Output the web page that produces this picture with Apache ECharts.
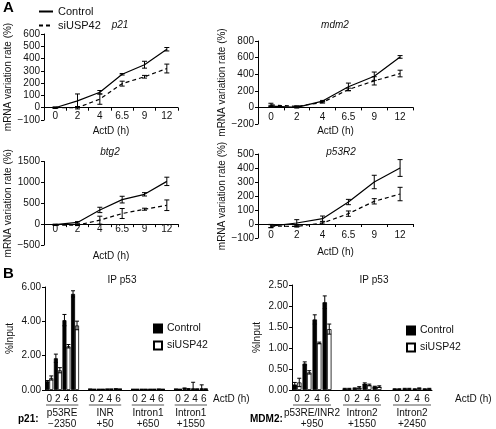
<!DOCTYPE html>
<html><head><meta charset="utf-8">
<script src="https://cdn.jsdelivr.net/npm/echarts@6/dist/echarts.min.js"></script>
<style>html,body{margin:0;padding:0;background:#fff}#c{width:496px;height:429px}</style>
</head><body><div id="c"></div>
<script>
// ---------- Panel A: mRNA variation rate (%) vs ActD (h) ----------
const times = ['0', '2', '4', '6.5', '9', '12'];

const p21Control = [0, 56, 126, 272, 350, 476];
const p21ControlErr = [5, 56, 14, 6, 28, 14];
const p21Si = [0, 0, 70, 196, 252, 319];
const p21SiErr = [5, 10, 42, 20, 11, 36];

const mdm2Control = [15, 0, 76, 248, 376, 608];
const mdm2ControlErr = [10, 8, 8, 45, 50, 16];
const mdm2Si = [30, 12, 60, 216, 320, 408];
const mdm2SiErr = [20, 8, 8, 16, 50, 40];

const btg2Control = [-10, 40, 340, 587, 714, 1024];
const btg2ControlErr = [10, 20, 64, 80, 40, 100];
const btg2Si = [-24, -24, 95, 254, 357, 452];
const btg2SiErr = [10, 10, 95, 120, 24, 127];

const p53r2Control = [-15, 7, 38, 157, 300, 400];
const p53r2ControlErr = [12, 24, 19, 19, 48, 60];
const p53r2Si = [-15, -17, 7, 74, 162, 214];
const p53r2SiErr = [10, 5, 8, 19, 19, 48];

// ---------- Panel B: ChIP IP p53, %Input ----------
const chipTimes = ['0', '2', '4', '6'];

const p21Regions = [['p53RE', '\u22122350'], ['INR', '+50'], ['Intron1', '+650'], ['Intron1', '+1550']];
const p21ChipControl = [0.50, 1.85, 4.07, 5.60, 0.05, 0.04, 0.05, 0.06, 0.04, 0.04, 0.04, 0.05, 0.05, 0.10, 0.10, 0.10];
const p21ChipControlErr = [0.05, 0.24, 0.33, 0.18, 0.01, 0.01, 0.01, 0.02, 0.01, 0.01, 0.01, 0.01, 0.01, 0.02, 0.35, 0.20];
const p21ChipSi = [0.70, 1.15, 2.55, 3.76, 0.04, 0.04, 0.05, 0.05, 0.04, 0.04, 0.04, 0.04, 0.04, 0.06, 0.05, 0.05];
const p21ChipSiErr = [0.12, 0.15, 0.10, 0.25, 0.01, 0.01, 0.01, 0.01, 0.01, 0.01, 0.01, 0.01, 0.01, 0.02, 0.02, 0.02];

const mdm2Regions = [['p53RE/INR2', '+950'], ['Intron2', '+1550'], ['Intron2', '+2450']];
const mdm2ChipControl = [0.13, 0.63, 1.68, 2.09, 0.03, 0.04, 0.15, 0.08, 0.02, 0.03, 0.02, 0.02];
const mdm2ChipControlErr = [0.05, 0.04, 0.11, 0.15, 0.01, 0.01, 0.02, 0.01, 0.01, 0.01, 0.01, 0.01];
const mdm2ChipSi = [0.18, 0.42, 1.12, 1.45, 0.03, 0.06, 0.12, 0.08, 0.02, 0.03, 0.04, 0.03];
const mdm2ChipSiErr = [0.10, 0.04, 0.02, 0.12, 0.01, 0.02, 0.02, 0.02, 0.01, 0.01, 0.01, 0.01];

// ---------- helpers ----------
const FONT = "'Liberation Sans', Arial, Helvetica, sans-serif";
const INK = '#111';
const txt = (size, extra) => Object.assign({ color: INK, fontFamily: FONT, fontSize: size }, extra || {});
const minus = v => String(v).replace('-', '\u2212');

function errData(vals, errs, idxFn, clampZero) {
  return vals.map((v, i) => {
    let lo = v - errs[i];
    if (clampZero) lo = Math.max(0, lo);
    return [idxFn ? idxFn(i) : i, lo, v + errs[i]];
  });
}
function errSeries(gridIdx, data, dx, capW) {
  return {
    type: 'custom', xAxisIndex: gridIdx, yAxisIndex: gridIdx, z: 5, silent: true,
    encode: { x: 0, y: [1, 2] },
    renderItem: (params, api) => {
      const lo = api.coord([api.value(0), api.value(1)]);
      const hi = api.coord([api.value(0), api.value(2)]);
      const cx = lo[0] + dx, w = capW / 2;
      const st = { stroke: '#000', lineWidth: 1 };
      return { type: 'group', children: [
        { type: 'line', shape: { x1: cx, y1: lo[1], x2: cx, y2: hi[1] }, style: st },
        { type: 'line', shape: { x1: cx - w, y1: lo[1], x2: cx + w, y2: lo[1] }, style: st },
        { type: 'line', shape: { x1: cx - w, y1: hi[1], x2: cx + w, y2: hi[1] }, style: st }
      ]};
    },
    data: data
  };
}

const grids = [
  { left: 44, top: 34, width: 134, height: 86 },    // p21
  { left: 258, top: 41, width: 155, height: 83 },   // mdm2
  { left: 44, top: 161.5, width: 134, height: 83.5 }, // btg2
  { left: 258, top: 154, width: 155, height: 84 },  // p53R2
  { left: 45, top: 287, width: 163, height: 103 },  // ChIP p21
  { left: 292, top: 285, width: 140, height: 105 }  // ChIP MDM2
];

const lineY = [
  { min: -100, max: 600, interval: 100 },
  { min: -200, max: 800, interval: 200 },
  { min: -500, max: 1500, interval: 500 },
  { min: -100, max: 500, interval: 100 }
];
// x labels sit just under the zero line
const labelMargin = [-9, -12, -21, -8];
const nameGaps = [6, 2, 6, 9];

const xAxes = [], yAxes = [], series = [];
const lineSets = [
  [p21Control, p21ControlErr, p21Si, p21SiErr],
  [mdm2Control, mdm2ControlErr, mdm2Si, mdm2SiErr],
  [btg2Control, btg2ControlErr, btg2Si, btg2SiErr],
  [p53r2Control, p53r2ControlErr, p53r2Si, p53r2SiErr]
];

lineSets.forEach((s, g) => {
  xAxes.push({
    type: 'category', gridIndex: g, data: times, boundaryGap: true,
    axisLine: { onZero: true, lineStyle: { color: '#000', width: 1 } },
    axisTick: { show: true, length: 3, lineStyle: { color: '#000' } },
    axisLabel: Object.assign(txt(10), { margin: labelMargin[g], interval: 0 }),
    name: 'ActD (h)', nameLocation: 'middle', nameGap: nameGaps[g], nameTextStyle: txt(10)
  });
  yAxes.push(Object.assign({
    type: 'value', gridIndex: g,
    axisLine: { show: true, lineStyle: { color: '#000', width: 1 } },
    axisTick: { show: true, length: 3, lineStyle: { color: '#000' } },
    splitLine: { show: false },
    axisLabel: Object.assign(txt(10), { margin: 4, formatter: minus }),
    name: 'mRNA variation rate (%)', nameLocation: 'middle', nameGap: 25, nameTextStyle: txt(10)
  }, lineY[g]));
  series.push({
    type: 'line', name: 'Control|A', xAxisIndex: g, yAxisIndex: g, data: s[0],
    symbol: 'none', lineStyle: { color: '#000', width: 1.2 }, itemStyle: { color: '#000' }, z: 3
  });
  series.push({
    type: 'line', name: 'siUSP42|A', xAxisIndex: g, yAxisIndex: g, data: s[2],
    symbol: 'none', lineStyle: { color: '#000', width: 1.2, type: [4, 3] }, itemStyle: { color: '#000' }, z: 3
  });
  series.push(errSeries(g, errData(s[0], s[1]), 0, 5));
  series.push(errSeries(g, errData(s[2], s[3]), 0, 5));
});

// ChIP bar charts
function chipCats(n) { const c = []; for (let g = 0; g < n; g++) { if (g) c.push(''); c.push(...chipTimes); } return c; }
function chipVals(vals, n) { const d = []; for (let g = 0; g < n; g++) { if (g) d.push('-'); for (let t = 0; t < 4; t++) d.push(vals[g * 4 + t]); } return d; }
const chipIdx = i => Math.floor(i / 4) * 5 + (i % 4);

const chipSets = [
  { grid: 4, regions: p21Regions, c: p21ChipControl, ce: p21ChipControlErr, s: p21ChipSi, se: p21ChipSiErr, max: 6, interval: 2, tag: 'B1', bw: 4 },
  { grid: 5, regions: mdm2Regions, c: mdm2ChipControl, ce: mdm2ChipControlErr, s: mdm2ChipSi, se: mdm2ChipSiErr, max: 2.5, interval: 0.5, tag: 'B2', bw: 4.5 }
];

chipSets.forEach(cs => {
  const n = cs.regions.length, g = cs.grid;
  xAxes.push({
    type: 'category', gridIndex: g, data: chipCats(n), boundaryGap: true,
    axisLine: { show: true, lineStyle: { color: '#000', width: 1 } },
    axisTick: { show: false },
    axisLabel: Object.assign(txt(10), { margin: 4, interval: 0 })
  });
  yAxes.push({
    type: 'value', gridIndex: g, min: 0, max: cs.max, interval: cs.interval,
    axisLine: { show: true, lineStyle: { color: '#000', width: 1 } },
    axisTick: { show: true, length: 3, lineStyle: { color: '#000' } },
    splitLine: { show: false },
    axisLabel: Object.assign(txt(10), { margin: 4, formatter: v => v.toFixed(2) }),
    name: '%Input', nameLocation: 'middle', nameGap: 30, nameTextStyle: txt(10)
  });
  series.push({
    type: 'bar', name: 'Control|' + cs.tag, xAxisIndex: g, yAxisIndex: g, data: chipVals(cs.c, n),
    barWidth: cs.bw, barGap: '0%', itemStyle: { color: '#000', borderColor: '#000', borderWidth: 0.8 }, z: 2
  });
  series.push({
    type: 'bar', name: 'siUSP42|' + cs.tag, xAxisIndex: g, yAxisIndex: g, data: chipVals(cs.s, n),
    barWidth: cs.bw, itemStyle: { color: '#fff', borderColor: '#000', borderWidth: 0.8 }, z: 2
  });
  series.push(errSeries(g, errData(cs.c, cs.ce, chipIdx, true), -cs.bw / 2, 4));
  series.push(errSeries(g, errData(cs.s, cs.se, chipIdx, true), cs.bw / 2, 4));
  // region underlines + names, positioned through the category scale
  series.push({
    type: 'custom', xAxisIndex: g, yAxisIndex: g, silent: true, clip: false,
    encode: { x: [0, 1] },
    renderItem: (params, api) => {
      const a = api.coord([api.value(0), 0]);
      const b = api.coord([api.value(1), 0]);
      const band = api.size([1, 0])[0];
      const x1 = a[0] - band / 2 + 1, x2 = b[0] + band / 2 - 1;
      const reg = cs.regions[api.value(2)];
      return { type: 'group', children: [
        { type: 'line', shape: { x1: x1, y1: a[1] + 15, x2: x2, y2: a[1] + 15 }, style: { stroke: '#555', lineWidth: 1 } },
        { type: 'text', style: { text: reg[0] + '\n' + reg[1], x: (x1 + x2) / 2, y: a[1] + 18,
            align: 'center', textAlign: 'center', verticalAlign: 'top', textVerticalAlign: 'top',
            font: '10px ' + FONT, fill: INK, lineHeight: 11 } }
      ]};
    },
    data: cs.regions.map((r, k) => [k * 5, k * 5 + 3, k])
  });
});

const legendFmt = n => n.split('|')[0];
const option = {
  animation: false,
  backgroundColor: '#fff',
  grid: grids,
  xAxis: xAxes,
  yAxis: yAxes,
  series: series,
  legend: [
    { data: ['Control|A', 'siUSP42|A'], orient: 'vertical', left: 33, top: 1, itemWidth: 14, itemHeight: 10, itemGap: 3,
      itemStyle: { opacity: 0 }, formatter: legendFmt, textStyle: txt(11), selectedMode: false },
    { data: ['Control|B1', 'siUSP42|B1'], orient: 'vertical', left: 148, top: 318, icon: 'rect', itemWidth: 8, itemHeight: 8, itemGap: 6,
      formatter: legendFmt, textStyle: txt(10.5), selectedMode: false },
    { data: ['Control|B2', 'siUSP42|B2'], orient: 'vertical', left: 401, top: 320, icon: 'rect', itemWidth: 8, itemHeight: 8, itemGap: 6,
      formatter: legendFmt, textStyle: txt(10.5), selectedMode: false }
  ],
  graphic: [
    { type: 'text', left: 3, top: 0, style: { text: 'A', font: 'bold 15px ' + FONT, fill: '#000' } },
    { type: 'text', left: 3, top: 266, style: { text: 'B', font: 'bold 15px ' + FONT, fill: '#000' } },
    { type: 'text', x: 120, y: 25, style: { text: 'p21', font: 'italic 10px ' + FONT, fill: INK, align: 'center', textAlign: 'center', verticalAlign: 'middle', textVerticalAlign: 'middle' } },
    { type: 'text', x: 335, y: 25, style: { text: 'mdm2', font: 'italic 10px ' + FONT, fill: INK, align: 'center', textAlign: 'center', verticalAlign: 'middle', textVerticalAlign: 'middle' } },
    { type: 'text', x: 110, y: 152, style: { text: 'btg2', font: 'italic 10px ' + FONT, fill: INK, align: 'center', textAlign: 'center', verticalAlign: 'middle', textVerticalAlign: 'middle' } },
    { type: 'text', x: 341, y: 152, style: { text: 'p53R2', font: 'italic 10px ' + FONT, fill: INK, align: 'center', textAlign: 'center', verticalAlign: 'middle', textVerticalAlign: 'middle' } },
    { type: 'text', x: 122, y: 280, style: { text: 'IP p53', font: '10px ' + FONT, fill: INK, align: 'center', textAlign: 'center', verticalAlign: 'middle', textVerticalAlign: 'middle' } },
    { type: 'text', x: 374, y: 280, style: { text: 'IP p53', font: '10px ' + FONT, fill: INK, align: 'center', textAlign: 'center', verticalAlign: 'middle', textVerticalAlign: 'middle' } },
    { type: 'text', x: 213, y: 399, style: { text: 'ActD (h)', font: '10px ' + FONT, fill: INK, verticalAlign: 'middle', textVerticalAlign: 'middle' } },
    { type: 'text', x: 455, y: 399, style: { text: 'ActD (h)', font: '10px ' + FONT, fill: INK, verticalAlign: 'middle', textVerticalAlign: 'middle' } },
    { type: 'text', x: 18, y: 419, style: { text: 'p21:', font: 'bold 10px ' + FONT, fill: '#000', verticalAlign: 'middle', textVerticalAlign: 'middle' } },
    { type: 'text', x: 250, y: 419, style: { text: 'MDM2:', font: 'bold 10px ' + FONT, fill: '#000', verticalAlign: 'middle', textVerticalAlign: 'middle' } }
  ]
};

const chart = echarts.init(document.getElementById('c'), null, { renderer: 'canvas' });
chart.setOption(option);
</script>
</body></html>
